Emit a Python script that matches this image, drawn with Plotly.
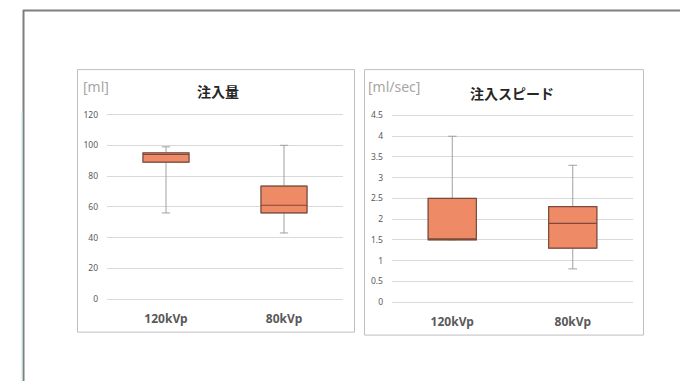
import plotly.graph_objects as go

W, H = 680, 383

# ---- data ---------------------------------------------------------------
categories = ["120kVp", "80kVp"]

# 注入量 [ml]
volume_lower = [56, 43]
volume_q1 = [89, 56]
volume_median = [94, 61]
volume_q3 = [95, 73.5]
volume_upper = [99, 100]

# 注入スピード [ml/sec]
speed_lower = [1.5, 0.8]
speed_q1 = [1.5, 1.3]
speed_median = [1.5, 1.9]
speed_q3 = [2.5, 2.3]
speed_upper = [4.0, 3.3]

volume_ticks = [0, 20, 40, 60, 80, 100, 120]
speed_ticks = [0, 0.5, 1, 1.5, 2, 2.5, 3, 3.5, 4, 4.5]
speed_ticktext = ["0", "0.5", "1", "1.5", "2", "2.5", "3", "3.5", "4", "4.5"]

# ---- styling ------------------------------------------------------------
BOX_FILL = "#EE8A65"
BOX_LINE = "#7B4A3A"
WHISKER = "#A0A0A0"
GRID = "#D9D9D9"
TEXT = "#595959"
CJK = "Noto Sans CJK JP"


def px_x(p):
    return p / W


def px_y(p):
    return 1 - p / H


def y_axis_geometry(vmin, vmax, px_bottom, px_top, pad_px=3.0):
    """Axis range and domain with a small pad so the end gridlines are drawn."""
    per_px = (vmax - vmin) / (px_bottom - px_top)
    pad = pad_px * per_px
    rng = [vmin - pad, vmax + pad]
    dom = [px_y(px_bottom + pad_px), px_y(px_top - pad_px)]
    return rng, dom


def add_panel(fig, lower, q1, med, q3, upper, xa, ya, width):
    # whiskers (grey) drawn underneath
    fig.add_trace(go.Box(
        x=categories, lowerfence=lower, q1=q1, median=med, q3=q3, upperfence=upper,
        xaxis=xa, yaxis=ya, width=width, whiskerwidth=0.18,
        fillcolor="rgba(0,0,0,0)", line=dict(color=WHISKER, width=1),
        boxpoints=False, hoverinfo="skip", showlegend=False,
    ))
    # the box itself (fences collapsed onto the quartiles)
    fig.add_trace(go.Box(
        x=categories, lowerfence=q1, q1=q1, median=med, q3=q3, upperfence=q3,
        xaxis=xa, yaxis=ya, width=width, whiskerwidth=0,
        fillcolor=BOX_FILL, line=dict(color=BOX_LINE, width=1.2),
        boxpoints=False, showlegend=False,
    ))


fig = go.Figure()
add_panel(fig, volume_lower, volume_q1, volume_median, volume_q3, volume_upper, "x", "y", 0.39)
add_panel(fig, speed_lower, speed_q1, speed_median, speed_q3, speed_upper, "x2", "y2", 0.40)

xcommon = dict(
    type="category", range=[-0.5, 1.5], showgrid=False, zeroline=False, showline=False,
    ticks="", ticklabelstandoff=8,
    tickfont=dict(family=f"Noto Sans, {CJK}", size=12, color=TEXT, weight="bold"),
)
ycommon = dict(
    showgrid=True, gridcolor=GRID, gridwidth=1, zeroline=False, showline=False,
    ticks="", ticklabelstandoff=8,
    tickfont=dict(family="Noto Sans", size=8.5, color=TEXT),
)

vol_range, vol_domain = y_axis_geometry(0, 120, 300, 113)
spd_range, spd_domain = y_axis_geometry(0, 4.5, 303, 114)

fig.update_layout(
    width=W, height=H,
    margin=dict(l=0, r=0, t=0, b=0),
    paper_bgcolor="white", plot_bgcolor="white",
    boxmode="overlay",
    xaxis=dict(domain=[px_x(107), px_x(343)], anchor="y", **xcommon),
    yaxis=dict(domain=vol_domain, anchor="x", range=vol_range,
               tickvals=volume_ticks, **ycommon),
    xaxis2=dict(domain=[px_x(392), px_x(633)], anchor="y2", **xcommon),
    yaxis2=dict(domain=spd_domain, anchor="x2", range=spd_range,
                tickvals=speed_ticks, ticktext=speed_ticktext, **ycommon),
)

# slide frame and chart panels
shapes = [
    dict(type="line", x0=px_x(23), x1=1, y0=px_y(7.5), y1=px_y(7.5),
         line=dict(color="#7F7F7F", width=2)),
    dict(type="line", x0=px_x(23.5), x1=px_x(23.5), y0=px_y(7), y1=0,
         line=dict(color="#7F7F7F", width=2)),
    dict(type="line", x0=px_x(22), x1=px_x(22), y0=px_y(110), y1=0,
         line=dict(color="#BFE6EA", width=1)),
    dict(type="rect", x0=px_x(77.5), x1=px_x(354.5), y0=px_y(333.5), y1=px_y(67.5),
         line=dict(color="#BFBFBF", width=1)),
    dict(type="rect", x0=px_x(364.5), x1=px_x(643.5), y0=px_y(336.5), y1=px_y(67.5),
         line=dict(color="#BFBFBF", width=1)),
]
for s in shapes:
    s.update(xref="paper", yref="paper", layer="below")
fig.update_layout(shapes=shapes)

annotations = [
    dict(text="注入量", x=px_x(218), y=px_y(89), xanchor="center", yanchor="middle",
         font=dict(family=CJK, size=14, color="#262626", weight="bold")),
    dict(text="注入スピード", x=px_x(512), y=px_y(91), xanchor="center", yanchor="middle",
         font=dict(family=CJK, size=14, color="#262626", weight="bold")),
    dict(text="[ml]", x=px_x(81), y=px_y(85), xanchor="left", yanchor="middle",
         font=dict(family="Noto Sans", size=14, color="#A6A6A6")),
    dict(text="[ml/sec]", x=px_x(366), y=px_y(85), xanchor="left", yanchor="middle",
         font=dict(family="Noto Sans", size=14, color="#A6A6A6")),
]
for a in annotations:
    a.update(xref="paper", yref="paper", showarrow=False)
fig.update_layout(annotations=annotations)

fig.write_html("out.html")
